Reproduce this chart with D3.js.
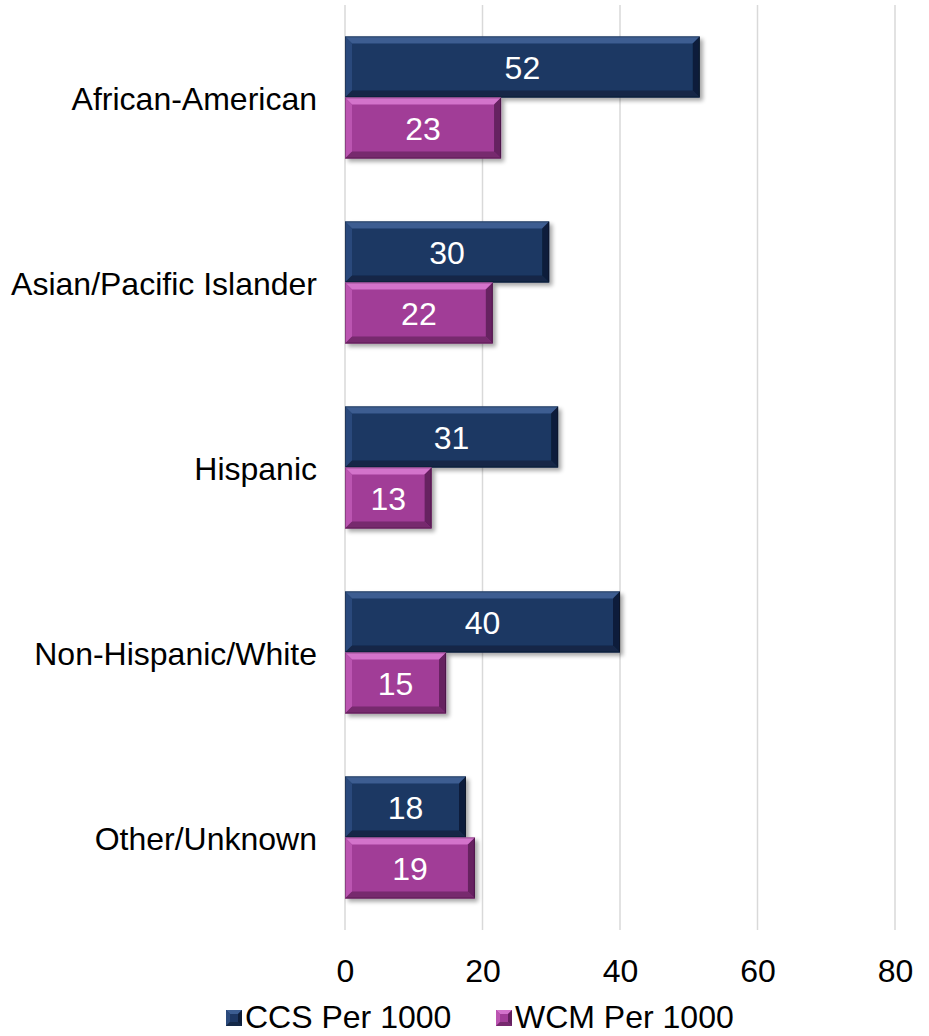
<!DOCTYPE html>
<html><head><meta charset="utf-8">
<script src="https://cdn.jsdelivr.net/npm/d3@7"></script>
<style>
html,body{margin:0;padding:0;background:#fff;}
text{font-family:"Liberation Sans",Arial,sans-serif;}
</style></head>
<body>
<svg id="chart" width="929" height="1036"></svg>
<script>
const categories = ["African-American","Asian/Pacific Islander","Hispanic","Non-Hispanic/White","Other/Unknown"];
const seriesNames = ["CCS Per 1000","WCM Per 1000"];
const ccsValues = [51.6, 29.7, 31.0, 40.0, 17.6];
const wcmValues = [22.7, 21.5, 12.6, 14.7, 18.9];
const xTicks = [0, 20, 40, 60, 80];

const palettes = [
  {fill:"#1d3763", top:"#3c5d91", left:"#2b4a7c", bottom:"#142847", right:"#0f1f3a"},
  {fill:"#a13d97", top:"#d373cb", left:"#bb55b1", bottom:"#77296e", right:"#662060"}
];

const FS = 32;
const svg = d3.select("#chart");
const W = 929, H = 1036;
const m = {left:345, right:34, top:5, bottom:106};
const x = d3.scaleLinear().domain([0,80]).range([m.left, W - m.right]);
const y = d3.scaleBand().domain(categories).range([m.top, H - m.bottom]).paddingInner(0.34).paddingOuter(0.17);
const sub = d3.scaleBand().domain([0,1]).range([0, y.bandwidth()]).padding(0);

const defs = svg.append("defs");
const f = defs.append("filter").attr("id","shadow").attr("x","-10%").attr("y","-20%").attr("width","130%").attr("height","160%");
f.append("feGaussianBlur").attr("in","SourceAlpha").attr("stdDeviation",2.2).attr("result","b");
f.append("feOffset").attr("in","b").attr("dx",3).attr("dy",3).attr("result","o");
f.append("feComponentTransfer").attr("in","o").attr("result","o2").append("feFuncA").attr("type","linear").attr("slope",0.35);
const fm = f.append("feMerge"); fm.append("feMergeNode").attr("in","o2"); fm.append("feMergeNode").attr("in","SourceGraphic");

// gridlines
svg.append("g").selectAll("line").data(xTicks).join("line")
  .attr("x1", d=>x(d)).attr("x2", d=>x(d))
  .attr("y1", m.top).attr("y2", H - m.bottom)
  .attr("stroke","#d9d9d9").attr("stroke-width",1.5);

const data = [];
categories.forEach((c,i)=>{
  data.push({cat:c, s:0, v:ccsValues[i]});
  data.push({cat:c, s:1, v:wcmValues[i]});
});

const bev = 7;
const poly = pts => pts.map(q=>q.join(",")).join(" ");
const bars = svg.append("g").selectAll("g").data(data).join("g").attr("filter","url(#shadow)");
bars.each(function(d){
  const g = d3.select(this);
  const p = palettes[d.s];
  const x0 = x(0), x1 = x(d.v);
  const y0 = y(d.cat) + sub(d.s), y1 = y0 + sub.bandwidth();
  g.append("rect").attr("x",x0).attr("y",y0).attr("width",x1-x0).attr("height",y1-y0).attr("fill",p.fill);
  g.append("polygon").attr("points",poly([[x0,y0],[x1,y0],[x1-bev,y0+bev],[x0+bev,y0+bev]])).attr("fill",p.top);
  g.append("polygon").attr("points",poly([[x0,y0],[x0+bev,y0+bev],[x0+bev,y1-bev],[x0,y1]])).attr("fill",p.left);
  g.append("polygon").attr("points",poly([[x0,y1],[x0+bev,y1-bev],[x1-bev,y1-bev],[x1,y1]])).attr("fill",p.bottom);
  g.append("polygon").attr("points",poly([[x1,y0],[x1,y1],[x1-bev,y1-bev],[x1-bev,y0+bev]])).attr("fill",p.right);
  g.append("rect").attr("x",x0+0.5).attr("y",y0+0.5).attr("width",x1-x0-1).attr("height",y1-y0-1)
    .attr("fill","none").attr("stroke","rgba(0,0,0,0.25)").attr("stroke-width",1);
});

// data labels
svg.append("g").selectAll("text").data(data).join("text")
  .attr("x", d=>(x(0)+x(d.v))/2)
  .attr("y", d=>y(d.cat)+sub(d.s)+sub.bandwidth()/2)
  .attr("dy","0.38em").attr("text-anchor","middle")
  .attr("fill","#fff").attr("font-size",FS)
  .text(d=>d3.format(".0f")(d.v));

// category labels
const yAxis = d3.axisLeft(y).tickSize(0).tickPadding(28);
const ya = svg.append("g").attr("transform",`translate(${x(0)},0)`).call(yAxis);
ya.select(".domain").remove();
ya.selectAll("text").attr("font-size",FS).attr("fill","#000").attr("font-family","Liberation Sans, Arial, sans-serif").attr("dy","0.4em");

// x axis
const xAxis = d3.axisBottom(x).tickValues(xTicks).tickSize(0).tickPadding(29).tickFormat(d3.format("d"));
const xa = svg.append("g").attr("transform",`translate(0,${H - m.bottom})`).call(xAxis);
xa.select(".domain").remove();
xa.selectAll("text").attr("font-size",FS).attr("fill","#000").attr("font-family","Liberation Sans, Arial, sans-serif");

// legend
const legX = [226, 496];
const leg = svg.append("g").selectAll("g").data(seriesNames).join("g")
  .attr("transform",(d,i)=>`translate(${legX[i]},1016)`);
leg.each(function(d,i){
  const g = d3.select(this), p = palettes[i], s = 16, b = 4;
  g.append("rect").attr("x",0).attr("y",-s/2+2).attr("width",s).attr("height",s).attr("fill",p.fill);
  const o = 2;
  g.append("polygon").attr("points",poly([[0,-s/2+o],[s,-s/2+o],[s-b,-s/2+b+o],[b,-s/2+b+o]])).attr("fill",p.top);
  g.append("polygon").attr("points",poly([[0,-s/2+o],[b,-s/2+b+o],[b,s/2-b+o],[0,s/2+o]])).attr("fill",p.left);
  g.append("polygon").attr("points",poly([[0,s/2+o],[b,s/2-b+o],[s-b,s/2-b+o],[s,s/2+o]])).attr("fill",p.bottom);
  g.append("polygon").attr("points",poly([[s,-s/2+o],[s,s/2+o],[s-b,s/2-b+o],[s-b,-s/2+b+o]])).attr("fill",p.right);
  g.append("text").attr("x",s+3).attr("y",0).attr("dy","0.36em").attr("font-size",FS).attr("fill","#000").text(d);
});
</script>
</body></html>
